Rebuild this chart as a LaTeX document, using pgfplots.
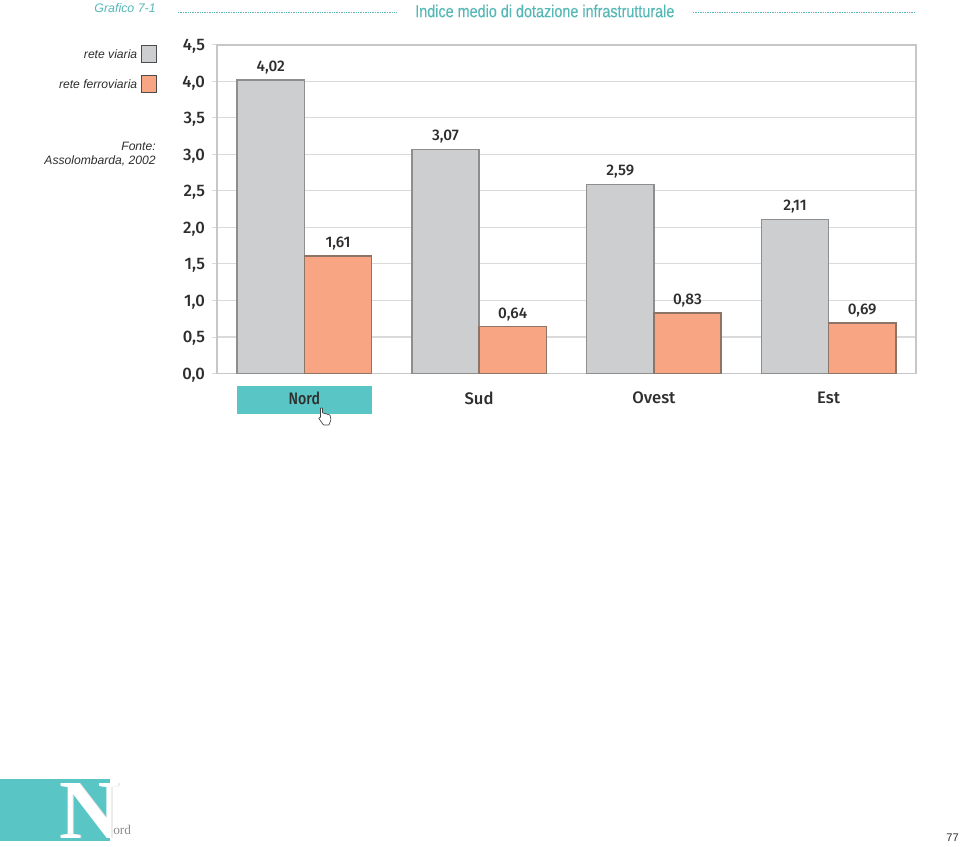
\documentclass[border=0pt]{standalone}
\usepackage{pgfplots}
\pgfplotsset{compat=1.18}
\usepackage{fontspec}
\setmainfont{Liberation Sans}
\newfontfamily\narrowfont[FakeStretch=0.83,FakeBold=0.3]{Liberation Sans}
\newfontfamily\chartfont{Fira Sans Medium}
\newfontfamily\nordfont[FakeStretch=0.85]{Fira Sans Medium}
\newfontfamily\logofont{Liberation Serif}
\definecolor{teal1}{HTML}{5AC5C5}
\definecolor{titlet}{HTML}{55B8B5}
\definecolor{barg}{HTML}{CDCECF}
\definecolor{barge}{HTML}{8E8E8E}
\definecolor{baro}{HTML}{F7A583}
\definecolor{baroe}{HTML}{8C7466}
\definecolor{gridc}{HTML}{DADADA}
\definecolor{txt}{HTML}{2E2E2E}
\begin{document}
\begin{tikzpicture}[x=0.75pt,y=-0.75pt]
% page
\path[use as bounding box] (0,0) rectangle (960,846);
% header
\node[anchor=east,font=\fontsize{9.3pt}{10pt}\selectfont\itshape,text=titlet,inner sep=0pt] at (156,8) {Grafico 7-1};
\draw[titlet,line width=0.4pt,dash pattern=on 1.1pt off 0.7pt] (178,12.5) -- (397,12.5);
\draw[titlet,line width=0.4pt,dash pattern=on 1.1pt off 0.7pt] (693,12.5) -- (914,12.5);
\node[anchor=west,font=\fontsize{13pt}{15pt}\narrowfont,text=titlet,inner sep=0pt] at (415,11) {Indice medio di dotazione infrastrutturale};
% legend
\node[anchor=east,font=\fontsize{9.1pt}{10pt}\selectfont\itshape,text=txt,inner sep=0pt] at (137.5,54) {rete viaria};
\node[anchor=east,font=\fontsize{9.1pt}{10pt}\selectfont\itshape,text=txt,inner sep=0pt] at (137.5,84.5) {rete ferroviaria};
\filldraw[fill=barg,draw=black!70,line width=0.5pt] (141.5,45.5) rectangle (156.5,62.5);
\filldraw[fill=baro,draw=black!70,line width=0.5pt] (141.5,75.5) rectangle (156.5,92.5);
\node[anchor=east,font=\fontsize{9.1pt}{10pt}\selectfont\itshape,text=txt,inner sep=0pt] at (156,146) {Fonte:};
\node[anchor=east,font=\fontsize{9.1pt}{10pt}\selectfont\itshape,text=txt,inner sep=0pt] at (156,160.5) {Assolombarda, 2002};
% highlighted category
\fill[teal1] (237,386) rectangle (372,413.5);
% chart
\begin{axis}[
  at={(162.75pt,-280.1pt)},anchor=south west,
  scale only axis,
  width=524.25pt,height=246.4pt,
  xmin=-0.5,xmax=3.5,ymin=0,ymax=4.5,
  ybar=0pt,bar width=50.4pt,
  axis line style={draw=black!22,line width=0.9pt},
  ytick pos=left,
  ytick={0,0.5,1,1.5,2,2.5,3,3.5,4,4.5},
  yticklabels={0\char44 0,0\char44 5,1\char44 0,1\char44 5,2\char44 0,2\char44 5,3\char44 0,3\char44 5,4\char44 0,4\char44 5},
  xtick={0,1,2,3},
  xticklabels={{\nordfont Nord},Sud,Ovest,Est},
  x tick style={draw=none},
  y tick style={draw=gridc,line width=0.7pt},
  tick align=outside,
  major tick length=3.5pt,
  ymajorgrids,
  grid style={gridc,line width=0.8pt},
  tick label style={font=\fontsize{12.5pt}{14pt}\chartfont,text=txt},
  yticklabel style={xshift=-2pt,yshift=-1.2pt},
  xticklabel style={yshift=-6.5pt},
  nodes near coords,
  every node near coord/.append style={font=\fontsize{11.5pt}{12pt}\chartfont,text=txt,yshift=0.5pt},
  /pgf/number format/.cd,use comma,fixed,fixed zerofill,precision=2,assume math mode=true,
  1000 sep={},
  /tikz/.cd,
]
\addplot[fill=barg,draw=barge,line width=1.2pt] coordinates {(0,4.02) (1,3.07) (2,2.59) (3,2.11)};
\addplot[fill=baro,draw=baroe,line width=1pt] coordinates {(0,1.61) (1,0.64) (2,0.83) (3,0.69)};
\end{axis}
% pointer
\filldraw[fill=white,draw=black!75,line width=0.5pt,rounded corners=0.4pt]
 (320.5,408) -- (322.5,408) -- (322.5,413) -- (325,413.5) -- (330,415) -- (331,419.5) -- (329,425) -- (323.5,425) -- (318.5,418) -- (320.5,417.5) -- cycle;
% logo
\fill[teal1] (0,779) rectangle (110,841);
\node[font=\fontsize{63pt}{63pt}\logofont\bfseries,text=black!15,inner sep=0pt,anchor=center] at (91,811) {N};
\node[font=\fontsize{63pt}{63pt}\logofont\bfseries,text=white,inner sep=0pt,anchor=center] at (90.3,811) {N};
\node[anchor=west,font=\fontsize{10pt}{10pt}\logofont,text=black!45,inner sep=0pt] at (113,830) {ord};
% page number
\node[anchor=east,font=\fontsize{8.3pt}{10pt}\selectfont,text=txt,inner sep=0pt] at (959,838) {77};
\end{tikzpicture}
\end{document}
